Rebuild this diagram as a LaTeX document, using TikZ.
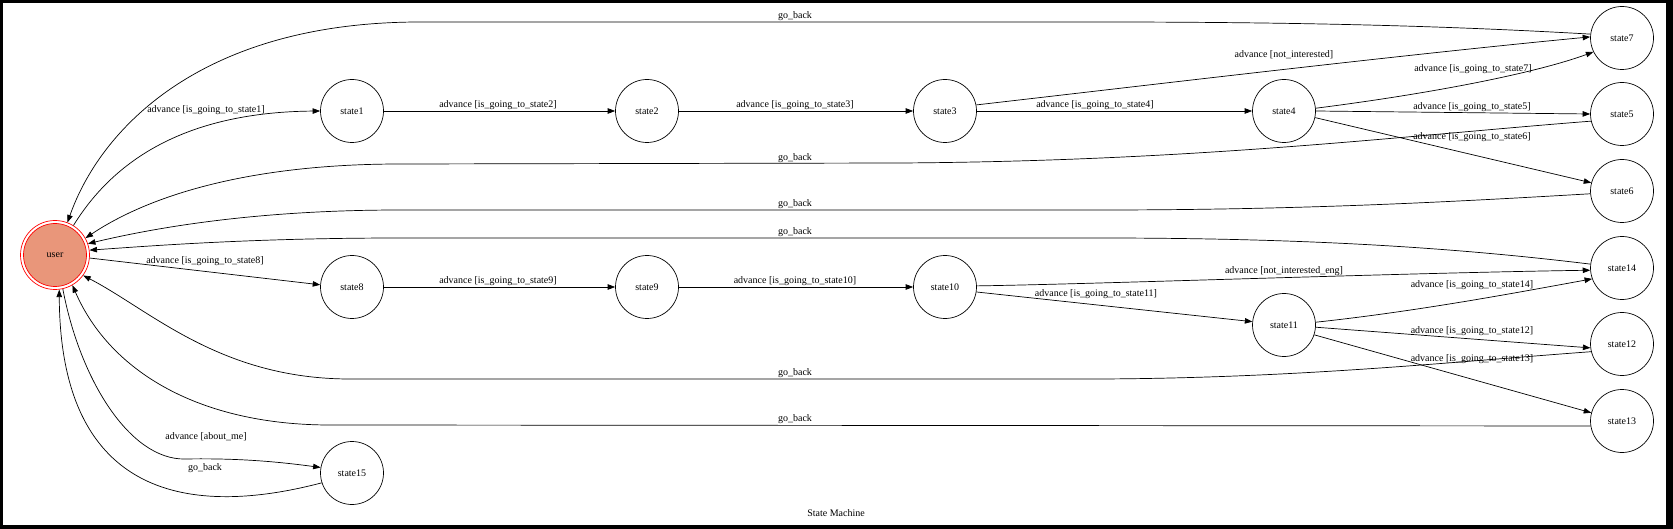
\documentclass[tikz,border=0pt]{standalone}
\usepackage{fontspec}
\setmainfont{Liberation Serif}
\usetikzlibrary{arrows.meta}
\definecolor{dsalmon}{RGB}{233,150,122}
\begin{document}
\begin{tikzpicture}[x=1pt,y=-1pt,
  every node/.style={font=\fontsize{10}{12}\selectfont},
  st/.style={circle,draw,line width=0.7pt,minimum size=63pt,inner sep=0pt},
  ed/.style={line width=0.7pt,-{Triangle[length=7.5pt,width=5.5pt]}},
  lb/.style={inner sep=0pt}]
\fill[black] (0,0) rectangle (1673,529);
\fill[white] (3,3) rectangle (1666,525);
\useasboundingbox (0,0) rectangle (1673,529);
% nodes
\node[circle,draw=red,line width=0.7pt,minimum size=69pt,inner sep=0pt,
  path picture={\fill[dsalmon] (path picture bounding box.center) circle (31.5pt);
  \draw[red,line width=0.7pt] (path picture bounding box.center) circle (31.5pt);}] (user) at (55,255) {user};
\node[st] (s1) at (352,111) {state1};
\node[st] (s2) at (647,111) {state2};
\node[st] (s3) at (945,111) {state3};
\node[st] (s4) at (1284,111) {state4};
\node[st] (s7) at (1622,38) {state7};
\node[st] (s5) at (1622,114) {state5};
\node[st] (s6) at (1622,191) {state6};
\node[st] (s14) at (1622,268) {state14};
\node[st] (s12) at (1622,344) {state12};
\node[st] (s13) at (1622,421) {state13};
\node[st] (s8) at (352,287) {state8};
\node[st] (s9) at (647,287) {state9};
\node[st] (s10) at (945,287) {state10};
\node[st] (s11) at (1284,325) {state11};
\node[st] (s15) at (352,473) {state15};
\node[lb] (title) at (836,513) {State Machine};
% edges
\draw[ed] (user.58) .. controls (120,150) and (200,112) .. (s1.west) node[lb,at={(206,110)}]{advance [is\_going\_to\_state1]};
\draw[ed] (s1) -- (s2) node[lb,at={(498,105)}]{advance [is\_going\_to\_state2]};
\draw[ed] (s2) -- (s3) node[lb,at={(795,105)}]{advance [is\_going\_to\_state3]};
\draw[ed] (s3) -- (s4) node[lb,at={(1095,105)}]{advance [is\_going\_to\_state4]};
\draw[ed] (s3.11) .. controls (1150,85) and (1400,55) .. (s7.178) node[lb,at={(1284,55)}]{advance [not\_interested]};
\draw[ed] (s4.5) .. controls (1420,95) and (1530,75) .. (s7.206) node[lb,at={(1473,69)}]{advance [is\_going\_to\_state7]};
\draw[ed] (s4.east) -- (s5.west) node[lb,at={(1472,107)}]{advance [is\_going\_to\_state5]};
\draw[ed] (s4.-12) -- (s6.165) node[lb,at={(1472,137)}]{advance [is\_going\_to\_state6]};
\draw[ed] (s7.173) .. controls (1450,26) and (1300,22) .. (1100,22) -- (420,22) .. controls (200,22) and (100,130) .. (user.69) node[lb,at={(795,16)}]{go\_back};
\draw[ed] (s5.193) .. controls (1400,136) and (1200,161) .. (900,163) -- (400,164) .. controls (250,164) and (150,195) .. (user.29) node[lb,at={(795,158)}]{go\_back};
\draw[ed] (s6.185) .. controls (1450,202) and (1300,210) .. (1100,210) -- (400,210) .. controls (250,210) and (150,229) .. (user.19) node[lb,at={(795,204)}]{go\_back};
\draw[ed] (s14.173) .. controls (1450,247) and (1300,238) .. (1100,238) -- (400,238) .. controls (250,238) and (150,246) .. (user.8) node[lb,at={(795,232)}]{go\_back};
\draw[ed] (user.-5) -- (s8.176) node[lb,at={(205,261)}]{advance [is\_going\_to\_state8]};
\draw[ed] (s8) -- (s9) node[lb,at={(498,281)}]{advance [is\_going\_to\_state9]};
\draw[ed] (s9) -- (s10) node[lb,at={(795,281)}]{advance [is\_going\_to\_state10]};
\draw[ed] (s10.2) .. controls (1100,284) and (1400,273) .. (s14.184) node[lb,at={(1284,271)}]{advance [not\_interested\_eng]};
\draw[ed] (s10.-9) -- (s11.174) node[lb,at={(1096,294)}]{advance [is\_going\_to\_state11]};
\draw[ed] (s11.5) .. controls (1420,311) and (1520,292) .. (s14.200) node[lb,at={(1472,285)}]{advance [is\_going\_to\_state14]};
\draw[ed] (s11.-4) -- (s12.187) node[lb,at={(1472,331)}]{advance [is\_going\_to\_state12]};
\draw[ed] (s11.-18) -- (s13.165) node[lb,at={(1472,359)}]{advance [is\_going\_to\_state13]};
\draw[ed] (s12.194) .. controls (1450,362) and (1300,378) .. (1100,379) -- (350,379) .. controls (220,379) and (150,310) .. (user.-36) node[lb,at={(795,373)}]{go\_back};
\draw[ed] (s13.189) -- (330,425) .. controls (200,425) and (110,372) .. (user.-60) node[lb,at={(795,419)}]{go\_back};
\draw[ed] (user.-77) .. controls (80,380) and (130,460) .. (185,459) .. controls (240,458) and (280,462) .. (s15.170) node[lb,at={(206,437)}]{advance [about\_me]};
\draw[ed] (s15.198) .. controls (180,520) and (60,490) .. (user.-83) node[lb,at={(205,468)}]{go\_back};
\end{tikzpicture}
\end{document}
